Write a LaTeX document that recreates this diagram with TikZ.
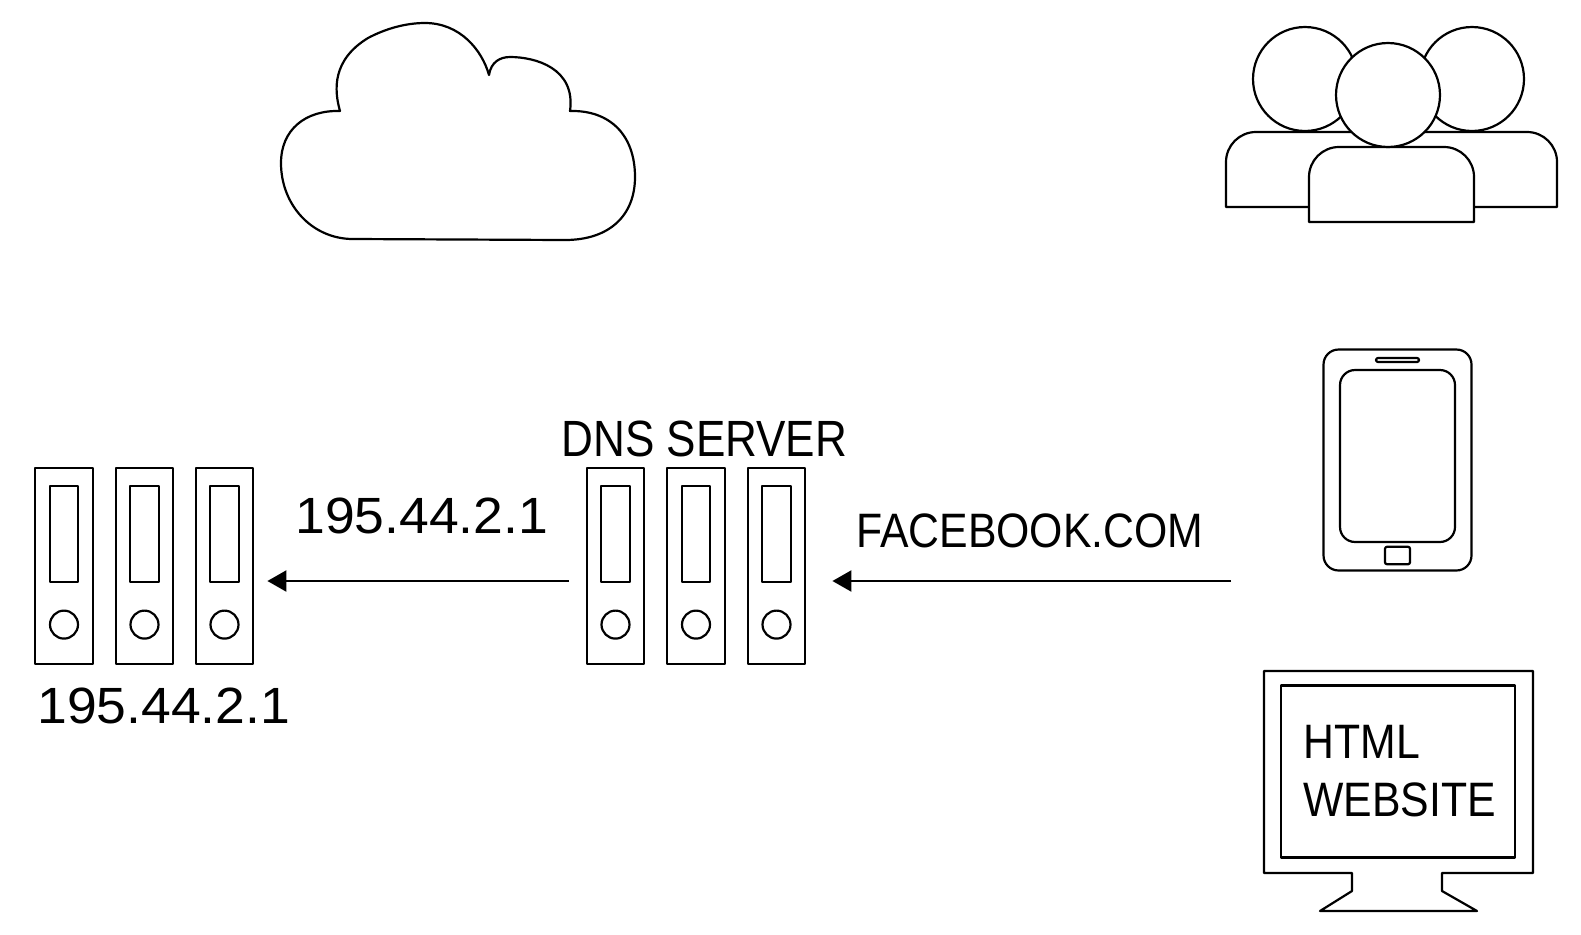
\documentclass[tikz,border=0pt]{standalone}
\usepackage{fontspec}
\setmainfont{Liberation Sans}
\newfontfamily\narrowsans[FakeStretch=0.885]{Liberation Sans}
\newfontfamily\titlesans[FakeStretch=0.865]{Liberation Sans}
\newfontfamily\digitsans[FakeStretch=1.05]{Liberation Sans}
\usetikzlibrary{arrows.meta,positioning}
\tikzset{
    iconline/.style={draw=black, line width=1.25pt, line join=round},
    rackbox/.style={iconline, rectangle, minimum width=1.145cm, minimum height=3.92cm, inner sep=0, outer sep=0},
    rackslot/.style={iconline, rectangle, minimum width=0.574cm, minimum height=1.912cm, inner sep=0, outer sep=0},
    rackled/.style={iconline, circle, minimum size=0.56cm, inner sep=0, outer sep=0},
    headdisc/.style={iconline, fill=white, circle, minimum size=2.08cm, inner sep=0, outer sep=0},
    flowarrow/.style={line width=1.25pt, -{Triangle[length=0.38cm, width=0.42cm]}},
    labeltext/.style={font=\narrowsans\fontsize{27.5}{32}\selectfont, inner sep=0, anchor=base west},
    titletext/.style={font=\titlesans\fontsize{29}{34}\selectfont, inner sep=0, anchor=base west},
    iptext/.style={font=\digitsans\fontsize{29}{34}\selectfont, inner sep=0, anchor=base west},
}
\newcommand{\serverrack}[2]{
    \node[rackbox] (#1) at (#2,566) {};
    \node[rackslot, below=0.36cm of #1.north] (#1slot) {};
    \node[rackled, below=0.58cm of #1slot] (#1led) {};
}

\begin{document}
\begin{tikzpicture}[x=0.02cm, y=-0.02cm]
    \useasboundingbox (0,0) rectangle (1581,934);

    % cloud
    \draw[iconline] (340,111) .. controls (334,90) and (332,60) .. (368,38)
        .. controls (385,29) and (405,23) .. (425,23)
        .. controls (460,23) and (482,50) .. (489,75)
        .. controls (491,62) and (500,57) .. (510,57)
        .. controls (535,57) and (576,68) .. (570,111)
        .. controls (610,110) and (635,135) .. (635,177)
        .. controls (635,215) and (610,240) .. (565,240)
        -- (353,239)
        .. controls (312,239) and (281,205) .. (281,163)
        .. controls (281,130) and (305,110) .. (340,111) -- cycle;

    % users
    \node[headdisc] (headleft) at (1305,79) {};
    \node[headdisc] (headright) at (1472,79) {};
    \draw[iconline, fill=white] (1226,207) [rounded corners=0.6cm] -- (1226,132) -- (1557,132) [sharp corners] -- (1557,207) -- cycle;
    \draw[iconline, fill=white] (1309,222) [rounded corners=0.6cm] -- (1309,147) -- (1474,147) [sharp corners] -- (1474,222) -- cycle;
    \node[headdisc] (headfront) at (1388,95) {};

    % phone
    \node[iconline, rectangle, rounded corners=0.3cm, minimum width=2.96cm, minimum height=4.42cm, inner sep=0] (phone) at (1397.5,460) {};
    \node[iconline, rectangle, rounded corners=0.3cm, minimum width=2.3cm, minimum height=3.44cm, inner sep=0] (phonescreen) at (1397.5,456) {};
    \node[iconline, rectangle, rounded corners=0.04cm, minimum width=0.86cm, minimum height=0.08cm, inner sep=0] (phonespeaker) at (1397.5,360) {};
    \node[iconline, rectangle, rounded corners=0.04cm, minimum width=0.5cm, minimum height=0.35cm, inner sep=0] (phonebutton) at (1397.5,555.5) {};

    % monitor
    \draw[iconline] (1264,671) -- (1533,671) -- (1533,873) -- (1442,873) -- (1442,891) -- (1477,911)
        -- (1320,911) -- (1352,891) -- (1352,873) -- (1264,873) -- cycle;
    \node[iconline, rectangle, minimum width=4.68cm, minimum height=3.44cm, inner sep=0] (screen) at (1398,771.5) {};
    \node[labeltext] (htmlword) at (1303.5,758) {HTML};
    \node[labeltext] (websiteword) at (1303,816) {WEBSITE};

    % server racks
    \serverrack{hostone}{64}
    \serverrack{hosttwo}{144.5}
    \serverrack{hostthree}{224.5}
    \serverrack{dnsone}{615.5}
    \serverrack{dnstwo}{696}
    \serverrack{dnsthree}{776.5}

    % labels
    \node[titletext] (dnslabel) at (561,456.5) {DNS SERVER};
    \node[iptext] (hostip) at (37,723.5) {195.44.2.1};
    \node[iptext] (replyip) at (295,533.5) {195.44.2.1};
    \node[labeltext] (domainlabel) at (856,547.5) {FACEBOOK.COM};

    % arrows
    \coordinate (phoneout) at (1231,581);
    \coordinate (dnsin) at (832.4,581);
    \coordinate (dnsout) at (569,581);
    \coordinate (hostin) at (267.4,581);
    \draw[flowarrow] (phoneout) -- (dnsin);
    \draw[flowarrow] (dnsout) -- (hostin);
\end{tikzpicture}
\end{document}
